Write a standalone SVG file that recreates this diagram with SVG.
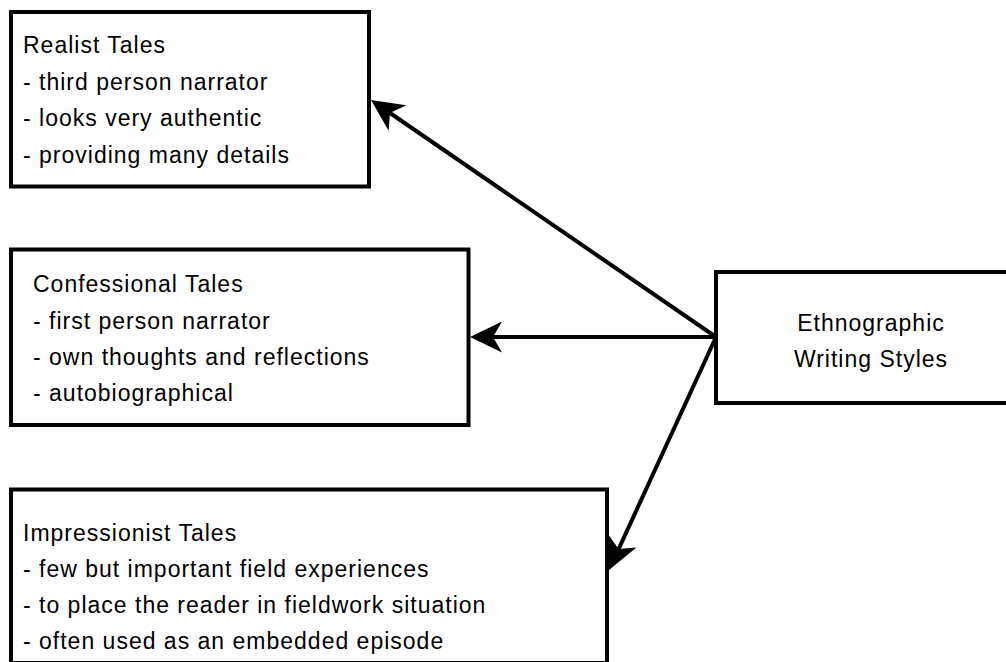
<svg xmlns="http://www.w3.org/2000/svg" width="1006" height="662" viewBox="0 0 1006 662">
  <style>
    .box { fill: #ffffff; stroke: #000000; stroke-width: 4; }
    .label { font-family: "Liberation Sans", Arial, Helvetica, sans-serif; font-size: 23px; letter-spacing: 1px; fill: #000000; }
    .mid { text-anchor: middle; }
    .edge { fill: none; stroke: #000000; stroke-width: 4; }
  </style>
  <defs>
    <marker id="arrow" markerUnits="userSpaceOnUse" markerWidth="40" markerHeight="40" refX="0" refY="0" orient="auto" overflow="visible">
      <path d="M23,0 L-9,-15.5 L0,0 L-9,15.5 Z" fill="#000000"/>
    </marker>
  </defs>
  <rect width="1006" height="662" fill="#ffffff"/>

  <g id="connectors">
    <line class="edge" x1="716" y1="337" x2="390" y2="113" marker-end="url(#arrow)"/>
    <line class="edge" x1="716" y1="337" x2="493" y2="337" marker-end="url(#arrow)"/>
    <line class="edge" x1="716" y1="337" x2="618.6" y2="549.1" marker-end="url(#arrow)"/>
  </g>

  <g id="realist">
    <rect class="box" x="11" y="12" width="358" height="174.5"/>
    <text class="label" x="23" y="53">Realist Tales</text>
    <text class="label" x="23" y="89.5">- third person narrator</text>
    <text class="label" x="23" y="126">- looks very authentic</text>
    <text class="label" x="23" y="162.5">- providing many details</text>
  </g>

  <g id="confessional">
    <rect class="box" x="11" y="249.5" width="457.5" height="175.5"/>
    <text class="label" x="33" y="292">Confessional Tales</text>
    <text class="label" x="33" y="328.5">- first person narrator</text>
    <text class="label" x="33" y="365">- own thoughts and reflections</text>
    <text class="label" x="33" y="401">- autobiographical</text>
  </g>

  <g id="impressionist">
    <rect class="box" x="11" y="489.5" width="596" height="173.5"/>
    <text class="label" x="23" y="541">Impressionist Tales</text>
    <text class="label" x="23" y="577">- few but important field experiences</text>
    <text class="label" x="23" y="613">- to place the reader in fieldwork situation</text>
    <text class="label" x="23" y="649">- often used as an embedded episode</text>
  </g>

  <g id="ethnographic">
    <rect class="box" x="716" y="272" width="300" height="131"/>
    <text class="label mid" x="871" y="331">Ethnographic</text>
    <text class="label mid" x="871" y="367">Writing Styles</text>
  </g>
</svg>
